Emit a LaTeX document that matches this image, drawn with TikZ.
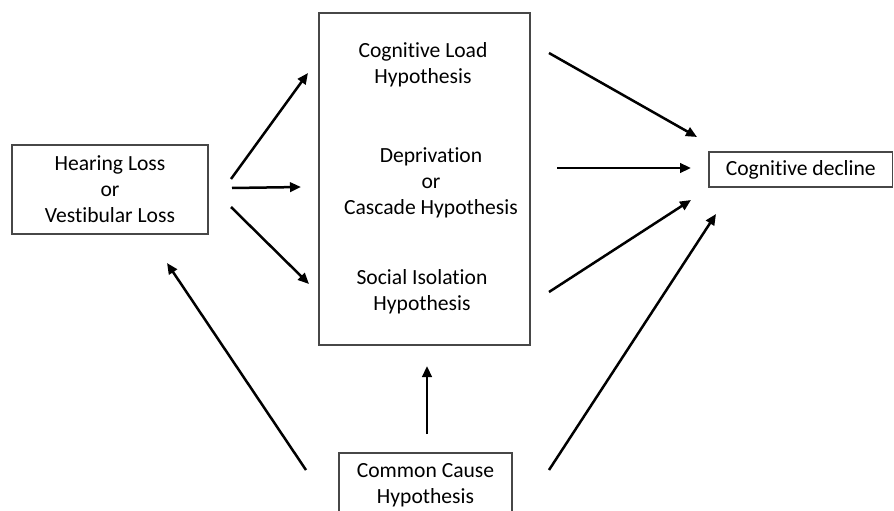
\documentclass[tikz,border=0pt]{standalone}
\usepackage{fontspec}
\setmainfont{Carlito}[Ligatures={NoCommon}]
\usetikzlibrary{arrows.meta}
\begin{document}
\begin{tikzpicture}[x=1pt,y=-1pt,
  every node/.style={font=\fontsize{21.6}{26}\selectfont, align=center, inner sep=0pt},
  box/.style={draw=black!72, line width=1.3pt, rectangle},
  txt/.style={},
  link/.style={line width=2.5pt, -{Triangle[length=11pt,width=9.5pt]}}]
  \useasboundingbox (0,0) rectangle (894,511);

  % boxes
  \node[box, minimum width=196pt, minimum height=89pt] (loss) at (110,189.5)
    {Hearing Loss\\or\\Vestibular Loss};
  \node[box, minimum width=211pt, minimum height=332pt] (hyp) at (424.5,179) {};
  \node[txt] (load) at (423,64.5) {Cognitive Load\\Hypothesis};
  \node[txt] (depr) at (431,183) {Deprivation\\or\\Cascade Hypothesis};
  \node[txt] (social) at (422,291.5) {Social Isolation\\Hypothesis};
  \node[box, minimum width=183.5pt, minimum height=35pt] (decline) at (800.75,169.5)
    {Cognitive decline};
  \node[box, minimum width=173pt, minimum height=64pt] (common) at (425.5,485)
    {Common Cause\\Hypothesis};

  % connector end points
  \coordinate (lossA) at (231,179);  \coordinate (loadIn) at (308,73);
  \coordinate (lossB) at (232,188);  \coordinate (deprIn) at (301,187);
  \coordinate (lossC) at (231,207);  \coordinate (socialIn) at (309,284);
  \coordinate (loadOut) at (549,53);   \coordinate (declA) at (697,137);
  \coordinate (deprOut) at (557,168);  \coordinate (declB) at (691,168);
  \coordinate (socialOut) at (549,292);\coordinate (declC) at (691,200);
  \coordinate (commonL) at (306,470);  \coordinate (lossIn) at (167,263);
  \coordinate (commonT) at (427,434);  \coordinate (hypIn) at (427,366);
  \coordinate (commonR) at (549,470);  \coordinate (declD) at (716,214);

  % connectors
  \draw[link] (lossA) -- (loadIn);
  \draw[link] (lossB) -- (deprIn);
  \draw[link] (lossC) -- (socialIn);
  \draw[link] (loadOut) -- (declA);
  \draw[link] (deprOut) -- (declB);
  \draw[link] (socialOut) -- (declC);
  \draw[link] (commonL) -- (lossIn);
  \draw[link] (commonT) -- (hypIn);
  \draw[link] (commonR) -- (declD);
\end{tikzpicture}
\end{document}
